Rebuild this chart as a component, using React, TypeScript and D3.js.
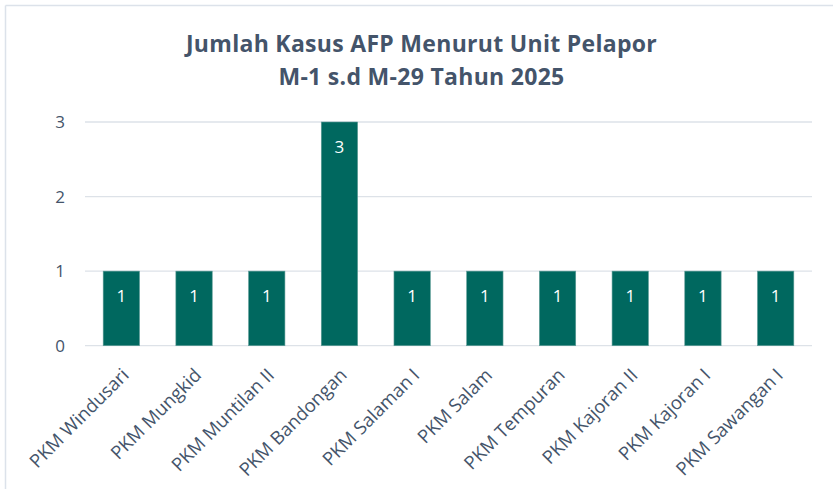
import React from "react";
import * as d3 from "d3";

const categories = [
  "PKM Windusari",
  "PKM Mungkid",
  "PKM Muntilan II",
  "PKM Bandongan",
  "PKM Salaman I",
  "PKM Salam",
  "PKM Tempuran",
  "PKM Kajoran II",
  "PKM Kajoran I",
  "PKM Sawangan I",
];
const values = [1, 1, 1, 3, 1, 1, 1, 1, 1, 1];
const yTicks = [0, 1, 2, 3];
const titleLines = ["Jumlah Kasus AFP Menurut Unit Pelapor", "M-1 s.d M-29 Tahun 2025"];

const W = 833;
const H = 489;
const plot = { left: 85, right: 812, top: 122, bottom: 345.7 };
const textColor = "#44546A";
const barColor = "#00685F";
const font = "'Open Sans', sans-serif";

export default function App() {
  const x = d3
    .scaleBand<string>()
    .domain(categories)
    .range([plot.left, plot.right])
    .paddingInner(0.5)
    .paddingOuter(0.25);
  const y = d3.scaleLinear().domain([0, 3]).range([plot.bottom, plot.top]);

  return (
    <svg
      width={W}
      height={H}
      style={{ position: "absolute", left: 0, top: 0, background: "#fff" }}
      fontFamily={font}
    >
      <rect x={0} y={0} width={W} height={H} fill="#fff" />
      <line x1={5.5} y1={5.5} x2={W} y2={5.5} stroke="#DCE2EA" strokeWidth={1.5} />
      <line x1={5.5} y1={5.5} x2={5.5} y2={H} stroke="#DCE2EA" strokeWidth={1.5} />
      {titleLines.map((t, i) => (
        <text
          key={t}
          x={421.5}
          y={52 + i * 33}
          textAnchor="middle"
          fontSize={23}
          letterSpacing={0.3}
          fontWeight="bold"
          fill={textColor}
        >
          {t}
        </text>
      ))}
      {yTicks.map((t) => (
        <g key={t}>
          <line
            x1={plot.left}
            x2={plot.right}
            y1={y(t)}
            y2={y(t)}
            stroke="#DDE2E8"
            strokeWidth={1.3}
          />
          <text
            x={65}
            y={y(t)}
            dy="0.35em"
            textAnchor="end"
            fontSize={17}
            fill={textColor}
          >
            {t}
          </text>
        </g>
      ))}
      {categories.map((c, i) => {
        const bx = x(c)!;
        const cx = bx + x.bandwidth() / 2;
        return (
          <g key={c}>
            <rect
              x={bx}
              y={y(values[i])}
              width={x.bandwidth()}
              height={y(0) - y(values[i])}
              fill={barColor}
              stroke="#5E9C97"
              strokeWidth={0.6}
            />
            <text
              x={cx}
              y={y(values[i]) + 25}
              dy="0.35em"
              textAnchor="middle"
              fontSize={17}
              fill="#fff"
            >
              {values[i]}
            </text>
            <text
              transform={`translate(${cx + 4},${plot.bottom + 26}) rotate(-45)`}
              textAnchor="end"
              dy="0.35em"
              fontSize={18.5}
              fill={textColor}
            >
              {c}
            </text>
          </g>
        );
      })}
    </svg>
  );
}
